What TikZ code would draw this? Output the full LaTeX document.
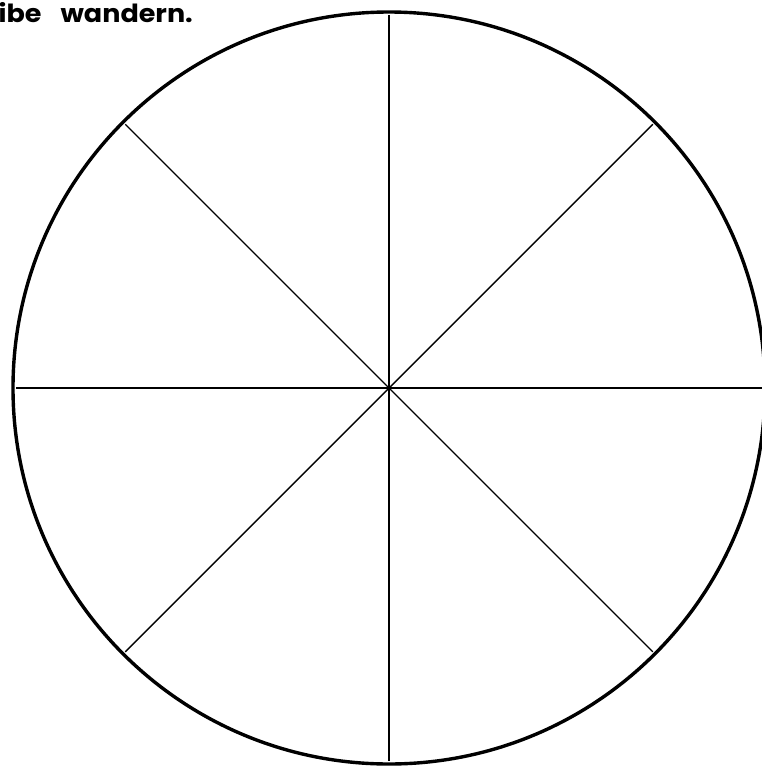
\documentclass[tikz,border=0pt]{standalone}
\usepackage{fontspec}
\usetikzlibrary{calc}
\newfontfamily\titlefont{Poppins}[FakeStretch=1.08]
\begin{document}
\begin{tikzpicture}[x=1pt,y=-1pt,
  rim/.style={line width=3.4pt},
  spoke/.style={line width=1.4pt},
  titletext/.style={font=\titlefont\bfseries\fontsize{25}{27}\selectfont, inner sep=0pt, anchor=base west}]
\useasboundingbox (0,0) rectangle (762,766);
\clip (0,0) rectangle (762,766);
\coordinate (c) at (389,388);
\draw[rim] (c) circle[radius=376];
\foreach \a/\n in {0/e,45/se,90/s,135/sw,180/w,225/nw,270/n,315/ne}{
  \coordinate (\n) at ($(c)+(\a:373)$);
}
\foreach \n in {e,se,s,sw,w,nw,n,ne}{
  \draw[spoke] (c) -- (\n);
}
\node[titletext] (title) at (-1.5,22) {ibe\hspace{19pt}wandern.};
\end{tikzpicture}
\end{document}
